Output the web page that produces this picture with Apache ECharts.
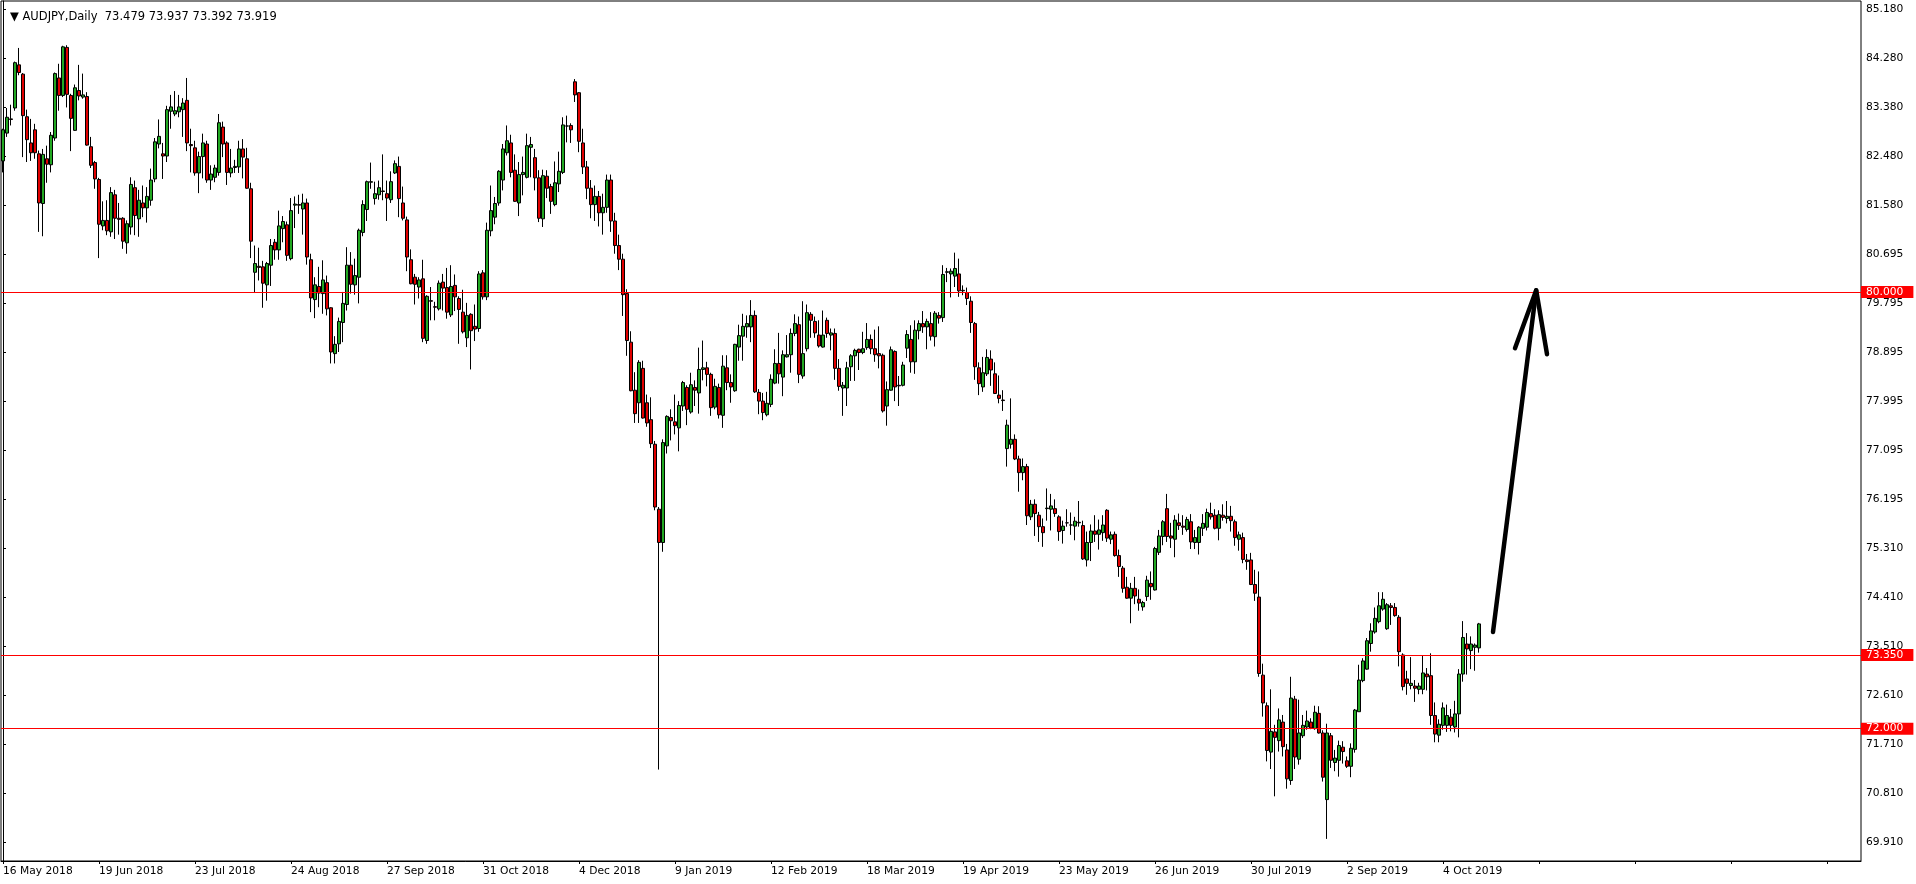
<!DOCTYPE html>
<html><head><meta charset="utf-8">
<script src="https://cdn.jsdelivr.net/npm/echarts@6/dist/echarts.min.js"></script>
<style>html,body{margin:0;padding:0;background:#fff;overflow:hidden}#c{width:1916px;height:884px}</style>
</head><body><div id="c"></div>
<script>
const headerText = '\u25BC AUDJPY,Daily  73.479 73.937 73.392 73.919';
const dateLabels = ['16 May 2018','19 Jun 2018','23 Jul 2018','24 Aug 2018','27 Sep 2018','31 Oct 2018','4 Dec 2018','9 Jan 2019','12 Feb 2019','18 Mar 2019','19 Apr 2019','23 May 2019','26 Jun 2019','30 Jul 2019','2 Sep 2019','4 Oct 2019'];
const barsPerDateLabel = 24;
const priceTicks = [85.180,84.280,83.380,82.480,81.580,80.695,79.795,78.895,77.995,77.095,76.195,75.310,74.410,73.510,72.610,71.710,70.810,69.910];
const levels = [80.000, 73.350, 72.000];
const lastPrice = 73.919;
const slotCount = 465;
// [open, high, low, close]
const candles = [
[82.40,82.99,82.19,82.97],[82.91,83.37,82.84,83.20],[83.17,83.43,83.05,83.16],[83.37,84.22,83.32,84.20],[84.16,84.47,83.97,84.02],
[83.99,84.01,82.47,83.23],[83.21,83.34,82.38,82.79],[82.73,83.17,82.40,82.55],[82.97,83.08,82.44,82.55],[82.53,82.59,81.10,81.63],
[81.62,82.62,81.02,82.52],[82.44,82.68,82.00,82.34],[82.33,82.93,82.19,82.87],[82.82,84.02,82.77,84.00],[83.92,84.18,83.32,83.60],
[83.60,84.51,83.57,84.49],[84.48,84.52,83.38,83.62],[83.60,83.63,82.58,83.18],[82.96,83.80,82.95,83.74],[83.69,84.16,83.51,83.59],
[83.57,84.00,83.54,83.61],[83.58,83.66,82.68,82.69],[82.66,82.84,82.27,82.32],[82.37,82.40,81.89,82.07],[82.06,82.09,80.62,81.24],
[81.21,81.66,81.13,81.31],[81.31,81.68,81.04,81.12],[81.10,81.92,81.01,81.82],[81.78,81.87,80.97,81.35],[81.35,81.63,81.05,81.33],
[81.35,81.37,80.79,80.93],[80.90,81.31,80.70,81.25],[81.19,82.10,81.05,81.97],[81.91,82.04,81.04,81.40],[81.34,81.87,81.01,81.68],
[81.63,81.95,81.37,81.54],[81.54,81.92,81.27,81.75],[81.68,82.26,81.58,82.05],[82.07,82.82,82.01,82.75],[82.71,83.16,82.63,82.85],
[82.53,82.73,82.07,82.49],[82.49,83.41,82.38,83.34],[83.31,83.61,82.99,83.39],[83.26,83.68,83.22,83.32],[83.30,83.61,83.20,83.39],
[83.34,83.55,82.84,83.46],[83.51,83.92,82.58,82.73],[82.70,82.99,82.19,82.68],[82.64,82.77,82.13,82.18],[82.18,82.57,81.81,82.48],
[82.48,82.90,82.08,82.73],[82.71,82.77,82.00,82.05],[82.05,82.32,81.87,82.16],[82.10,82.33,82.01,82.27],[82.19,83.26,82.13,83.10],
[83.02,83.12,82.47,82.71],[82.73,82.76,81.96,82.19],[82.18,82.62,82.10,82.27],[82.28,82.42,82.18,82.30],[82.29,82.77,82.18,82.62],
[82.62,82.80,82.08,82.47],[82.44,82.64,81.89,81.90],[81.89,82.00,80.62,80.93],[80.36,80.85,79.98,80.52],[80.47,80.81,80.21,80.45],
[80.46,80.57,79.71,80.16],[80.13,80.55,79.84,80.52],[80.49,80.97,80.11,80.85],[80.91,80.97,80.59,80.77],[80.77,81.49,80.59,81.21],
[81.16,81.39,80.91,81.29],[81.23,81.29,80.57,80.67],[80.61,81.72,80.58,81.49],[81.59,81.75,81.17,81.61],[81.60,81.78,81.43,81.59],
[81.52,81.80,81.05,81.63],[81.63,81.71,80.50,80.64],[80.59,80.70,79.63,79.89],[79.86,80.27,79.52,80.13],[80.10,80.46,79.72,79.98],
[79.97,80.58,79.60,80.22],[80.17,80.30,79.57,79.69],[79.71,79.72,78.69,78.90],[78.87,79.19,78.69,79.04],[79.05,79.53,78.90,79.46],
[79.44,80.00,79.08,79.79],[79.77,80.82,79.66,80.49],[80.49,80.73,79.97,80.14],[80.13,80.61,79.95,80.30],[80.27,81.16,79.79,81.13],
[81.09,81.68,81.02,81.60],[81.51,82.04,81.30,82.02],[82.01,82.37,81.89,82.02],[81.71,82.02,81.60,81.80],[81.78,82.04,81.69,81.91],
[81.85,82.52,81.68,81.84],[81.80,82.04,81.30,81.72],[81.69,82.21,81.63,82.02],[82.18,82.41,82.16,82.35],[82.30,82.48,81.37,81.71],
[81.63,81.93,81.31,81.35],[81.32,81.38,80.38,80.64],[80.59,80.78,80.14,80.15],[80.27,80.33,79.77,80.14],[80.09,80.27,79.88,80.22],
[80.24,80.59,79.08,79.15],[79.11,79.94,79.05,79.92],[79.84,80.09,79.48,79.83],[79.73,79.82,79.48,79.72],[79.69,80.21,79.66,80.16],
[80.18,80.33,79.66,80.07],[80.08,80.44,79.51,79.63],[79.58,80.49,79.54,80.10],[80.12,80.32,79.65,79.91],[79.88,79.92,79.05,79.68],
[79.63,80.04,79.24,79.27],[79.16,79.80,78.99,79.57],[79.59,79.61,78.58,79.29],[79.37,79.77,79.10,79.32],[79.33,80.38,79.27,80.33],
[80.35,80.40,79.86,79.91],[79.91,81.27,79.85,81.13],[81.12,81.95,81.02,81.49],[81.37,81.74,81.24,81.62],[81.63,82.23,81.58,82.21],
[82.05,82.71,81.86,82.62],[82.55,83.05,82.50,82.77],[82.73,82.88,82.10,82.19],[82.23,82.52,81.65,81.66],[81.63,82.38,81.39,82.15],
[82.15,82.48,81.77,82.19],[82.10,82.90,82.08,82.68],[82.65,82.84,82.10,82.70],[82.46,82.62,81.86,82.09],[82.09,82.23,81.28,81.35],
[81.34,82.24,81.19,82.13],[82.12,82.23,81.72,81.90],[81.93,81.98,81.43,81.66],[81.60,82.39,81.57,82.00],[81.98,82.57,81.83,82.21],
[82.19,83.20,82.16,83.06],[83.04,83.23,82.74,83.04],[83.05,83.09,82.73,82.97],[83.85,83.90,83.48,83.61],[83.65,83.66,82.56,82.76],
[82.73,82.99,82.16,82.29],[82.29,82.40,81.70,81.90],[81.90,82.05,81.35,81.60],[81.60,81.95,81.30,81.75],[81.75,81.85,81.20,81.45],
[81.45,81.80,81.05,81.55],[81.55,82.15,81.45,82.05],[82.05,82.15,81.10,81.30],[81.30,81.45,80.70,80.85],[80.85,81.05,80.40,80.60],
[80.60,80.70,79.56,79.95],[79.97,80.05,78.83,79.11],[79.08,79.28,78.18,78.19],[78.20,78.53,77.60,77.77],[77.97,78.75,77.60,78.71],
[78.60,78.74,77.68,77.69],[77.97,78.12,77.53,77.60],[77.66,78.07,77.14,77.22],[77.21,77.27,76.00,76.06],[76.02,76.06,71.25,75.41],
[75.41,77.30,75.24,77.24],[77.18,77.74,77.04,77.72],[77.70,77.85,77.28,77.64],[77.62,78.12,77.39,77.55],[77.51,78.00,77.08,77.92],
[77.91,78.37,77.82,78.34],[78.25,78.29,77.56,77.85],[77.80,78.52,77.77,78.30],[78.25,78.38,77.91,78.20],[78.15,78.98,77.77,78.58],
[78.58,79.11,78.38,78.61],[78.61,78.72,78.27,78.49],[78.49,78.52,77.73,77.88],[77.89,78.41,77.85,78.27],[78.25,78.32,77.68,77.75],
[77.74,78.84,77.51,78.64],[78.61,78.84,78.20,78.34],[78.34,78.49,77.97,78.26],[78.19,79.05,78.17,79.04],[78.99,79.40,78.74,79.20],
[79.19,79.60,78.74,79.37],[79.36,79.57,79.16,79.42],[79.36,79.85,79.08,79.57],[79.57,79.66,78.15,78.17],[78.16,78.22,77.76,78.00],
[78.00,78.15,77.65,77.79],[77.75,78.17,77.72,77.96],[77.94,78.49,77.89,78.40],[78.33,78.95,78.31,78.69],[78.69,79.25,78.32,78.50],
[78.44,78.93,78.09,78.85],[78.81,79.21,78.80,78.85],[78.85,79.33,78.52,79.24],[79.24,79.59,79.19,79.42],[79.40,79.55,78.33,78.49],
[78.46,79.83,78.41,78.87],[78.96,79.77,78.91,79.62],[79.59,79.63,79.16,79.48],[79.46,79.55,79.16,79.25],[79.21,79.48,78.98,79.01],
[78.99,79.66,78.98,79.21],[79.48,79.53,79.16,79.24],[79.21,79.33,78.93,79.25],[79.24,79.33,78.39,78.60],[78.60,78.77,78.19,78.27],
[78.24,78.35,77.73,78.29],[78.24,78.72,77.91,78.61],[78.63,78.86,78.37,78.83],[78.83,78.96,78.37,78.93],[78.95,78.96,78.57,78.89],
[78.89,79.27,78.86,78.96],[78.98,79.43,78.94,79.13],[79.13,79.22,78.86,78.96],[78.96,79.31,78.72,78.85],[78.87,79.37,78.60,78.83],
[78.84,78.87,77.79,77.82],[77.91,78.36,77.55,78.21],[78.20,79.00,78.19,78.94],[78.91,78.93,78.00,78.26],[78.28,78.46,77.91,78.29],
[78.29,78.72,78.27,78.66],[78.97,79.30,78.79,79.22],[79.13,79.39,78.52,78.72],[78.72,79.48,78.50,79.30],[79.29,79.48,79.13,79.42],
[79.42,79.65,79.25,79.36],[79.36,79.51,78.95,79.46],[79.42,79.63,79.11,79.19],[79.18,79.65,79.00,79.61],[79.57,79.63,79.42,79.52],
[79.53,80.49,79.45,80.32],[80.36,80.44,80.18,80.37],[80.33,80.43,79.90,80.38],[80.29,80.72,80.09,80.43],[80.33,80.61,79.91,80.02],
[80.03,80.12,79.94,80.02],[79.99,80.08,79.76,79.88],[79.83,79.92,79.25,79.44],[79.42,79.45,78.39,78.63],[78.61,78.71,78.11,78.32],
[78.26,78.81,78.17,78.52],[78.50,78.95,78.46,78.80],[78.77,78.93,78.28,78.57],[78.50,78.71,78.13,78.14],[78.11,78.47,77.96,78.05],
[78.02,78.20,77.82,78.01],[77.13,77.66,76.80,77.56],[77.21,78.05,77.13,77.30],[77.30,77.39,76.92,76.94],[76.94,77.00,76.34,76.69],
[76.69,76.95,76.55,76.80],[76.80,76.85,75.73,75.90],[75.88,76.19,75.82,76.11],[76.11,76.20,75.53,75.94],[75.91,75.97,75.42,75.70],
[75.70,75.85,75.33,75.59],[76.03,76.40,75.81,76.04],[76.02,76.30,75.63,76.08],[76.03,76.20,75.88,75.94],[75.88,75.91,75.44,75.61],
[75.63,75.81,75.39,75.71],[75.77,76.02,75.70,75.77],[75.73,75.96,75.55,75.73],[75.71,75.88,75.45,75.80],[75.78,76.17,75.70,75.77],
[75.72,75.81,75.09,75.11],[75.09,75.61,74.97,75.41],[75.41,75.74,75.07,75.62],[75.62,75.91,75.42,75.56],[75.56,75.83,75.28,75.64],
[75.59,75.91,75.44,75.73],[76.00,76.02,75.42,75.49],[75.47,75.61,75.38,75.55],[75.56,75.61,75.15,75.17],[75.17,75.28,74.78,74.97],
[74.94,74.98,74.49,74.57],[74.59,74.78,74.38,74.39],[74.39,74.67,73.93,74.57],[74.57,74.78,74.28,74.43],[74.37,74.55,74.16,74.30],
[74.23,74.34,74.16,74.31],[74.42,74.80,74.34,74.72],[74.66,74.88,74.36,74.60],[74.54,75.33,74.53,75.30],[75.23,75.64,75.18,75.53],
[75.52,75.82,75.36,75.79],[76.03,76.30,75.42,75.52],[75.53,75.77,75.31,75.49],[75.47,75.91,75.14,75.82],[75.77,75.94,75.64,75.72],
[75.71,75.91,75.55,75.69],[75.65,75.88,75.61,75.83],[75.79,75.93,75.29,75.42],[75.41,75.64,75.29,75.50],[75.41,75.71,75.19,75.69],
[75.67,75.93,75.53,75.76],[75.69,76.03,75.63,75.96],[75.94,76.14,75.83,75.88],[75.91,76.02,75.65,75.67],[75.67,76.00,75.45,75.92],
[75.91,76.11,75.81,75.87],[75.85,76.17,75.76,75.89],[75.89,76.08,75.61,75.81],[75.79,75.83,75.35,75.50],[75.47,75.61,75.26,75.55],
[75.50,75.59,75.03,75.10],[75.09,75.20,74.91,75.06],[75.09,75.22,74.63,74.64],[74.64,74.91,74.34,74.48],[74.41,74.88,72.95,73.01],
[72.98,73.19,72.22,72.47],[72.42,72.48,71.40,71.60],[71.57,72.72,71.26,71.95],[71.94,72.07,70.76,71.84],[71.78,72.37,71.58,72.16],
[72.12,72.25,71.49,71.67],[71.61,71.72,70.90,71.08],[71.05,72.95,70.97,72.56],[72.54,72.60,71.26,71.48],[71.44,72.53,71.34,71.92],
[71.87,72.25,71.83,72.06],[72.03,72.33,71.98,72.14],[72.12,72.19,71.99,72.01],[72.00,72.42,71.98,72.30],[72.28,72.41,71.91,71.92],
[71.92,71.97,71.03,71.11],[70.70,72.09,69.98,71.92],[71.87,71.92,71.28,71.42],[71.38,71.61,71.22,71.46],[71.42,71.78,71.12,71.69],
[71.66,71.77,71.36,71.58],[71.41,71.49,71.28,71.31],[71.31,71.73,71.11,71.64],[71.62,72.36,71.56,72.34],[72.31,73.17,72.31,72.89],
[72.88,73.29,72.85,73.24],[73.09,73.66,73.08,73.61],[73.56,73.93,73.41,73.79],[73.77,74.22,73.74,74.02],[73.96,74.50,73.93,74.25],
[74.19,74.50,74.16,74.37],[73.83,74.30,73.81,74.27],[74.25,74.30,73.90,74.22],[74.22,74.30,74.05,74.07],[74.04,74.08,73.14,73.41],
[73.35,73.38,72.70,72.77],[72.91,73.06,72.62,72.83],[72.79,73.31,72.72,72.83],[72.78,72.89,72.49,72.74],[72.72,72.84,72.63,72.78],
[72.72,73.33,72.63,73.02],[73.00,73.11,72.70,72.95],[72.97,73.38,72.07,72.24],[72.24,72.48,71.75,71.90],[71.88,72.17,71.75,72.08],
[72.06,72.48,71.98,72.38],[72.06,72.44,71.94,72.24],[72.21,72.36,71.95,72.06],[72.03,72.51,71.93,72.27],[72.27,73.09,71.84,73.00],
[73.00,73.97,72.86,73.67],[73.55,73.75,72.99,73.46],[73.43,73.69,73.09,73.55],[73.49,73.56,73.06,73.53],[73.479,73.937,73.392,73.919]
];
// hand-drawn arrow, in [bar slot, price]
const arrowShaft = [[372.5, 73.77], [383.3, 80.03]];
const arrowHead = [[378.0, 78.97], [383.3, 80.03], [386.0, 78.86]];

const FONT = 'DejaVu Sans';
const AXIS_FONT_SIZE = 10.7;
const categories = Array.from({length: slotCount}, (_, i) => String(i));
const chart = echarts.init(document.getElementById('c'), null, {renderer: 'canvas'});

const boxLabel = (text, bg) => ({
  show: true, position: 'end', distance: 0, formatter: text, color: '#ffffff',
  backgroundColor: bg, padding: [1, 10, 0, 5], fontSize: AXIS_FONT_SIZE, lineHeight: 11, fontFamily: FONT
});
const markData = levels.map(v => ({
  yAxis: v,
  lineStyle: {color: '#ff0000', width: 1, type: 'solid'},
  label: boxLabel(v.toFixed(3), '#ff0000')
}));
markData.push({
  yAxis: lastPrice,
  lineStyle: {opacity: 0, width: 0},
  label: boxLabel(lastPrice.toFixed(3), '#000000')
});

chart.setOption({
  animation: false,
  backgroundColor: '#ffffff',
  title: {text: headerText, left: 5, top: 6, textStyle: {fontSize: 11.5, fontFamily: FONT, fontWeight: 'normal', color: '#000'}},
  grid: {left: 1, top: 1, width: 1860, height: 860, show: true, borderColor: '#000', borderWidth: 1, containLabel: false},
  xAxis: [{
    type: 'category', data: categories, boundaryGap: true,
    axisLine: {show: true, lineStyle: {color: '#000'}},
    axisTick: {show: true, interval: barsPerDateLabel - 1, alignWithLabel: true, length: 3, lineStyle: {color: '#000'}},
    axisLabel: {show: true, interval: barsPerDateLabel - 1, align: 'left', margin: 5, fontSize: AXIS_FONT_SIZE, fontFamily: FONT, color: '#000',
      formatter: (v, idx) => (idx % barsPerDateLabel === 0 && dateLabels[idx / barsPerDateLabel]) ? dateLabels[idx / barsPerDateLabel] : ''},
    splitLine: {show: false}
  }, {
    type: 'value', min: -0.5, max: slotCount - 0.5, show: false
  }],
  yAxis: {
    type: 'value', position: 'right', min: 69.575, max: 85.33, scale: true,
    axisLine: {show: true, lineStyle: {color: '#000'}},
    axisTick: {show: true, length: 3, customValues: priceTicks, lineStyle: {color: '#000'}},
    axisLabel: {show: true, customValues: priceTicks, margin: 5, fontSize: AXIS_FONT_SIZE, fontFamily: FONT, color: '#000',
      formatter: v => Number(v).toFixed(3)},
    splitLine: {show: false}
  },
  series: [{
    type: 'candlestick',
    xAxisIndex: 0,
    data: candles.map(([o, h, l, c]) => [o, c, l, h]),
    barWidth: 3,
    itemStyle: {color: '#22a822', color0: '#e00000', borderColor: '#000', borderColor0: '#000', borderWidth: 1},
    markLine: {silent: true, symbol: ['none', 'none'], animation: false, data: markData}
  }, {
    type: 'line', xAxisIndex: 1, data: arrowShaft, symbol: 'none', silent: true,
    lineStyle: {color: '#000', width: 4.5, cap: 'round'}, z: 5
  }, {
    type: 'line', xAxisIndex: 1, data: arrowHead, symbol: 'none', silent: true,
    lineStyle: {color: '#000', width: 4.5, cap: 'round', join: 'round'}, z: 5
  }]
});
</script></body></html>
